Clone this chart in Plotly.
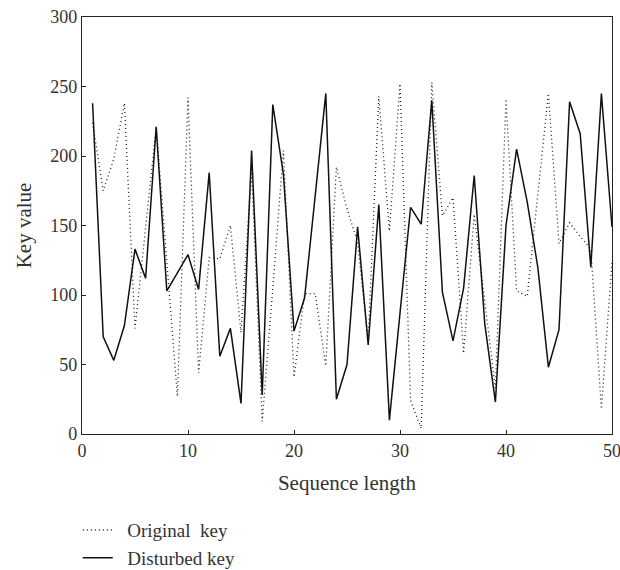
import plotly.graph_objects as go

seq = list(range(1, 51))
original_key = [224, 175, 198, 238, 76, 148, 221, 124, 27, 242,
                44, 127, 126, 150, 73, 190, 9, 105, 204, 41,
                101, 101, 49, 192, 162, 138, 67, 243, 146, 252,
                24, 4, 253, 157, 170, 58, 158, 95, 33, 241,
                103, 99, 172, 245, 137, 152, 142, 133, 18, 124]
disturbed_key = [238, 70, 53, 78, 133, 112, 221, 103, 116, 129,
                 104, 188, 56, 76, 22, 204, 28, 237, 187, 74,
                 98, 171, 245, 25, 50, 149, 64, 165, 10, 87,
                 163, 151, 240, 102, 67, 105, 186, 79, 23, 150,
                 205, 167, 120, 48, 75, 239, 216, 120, 245, 149]
x_ticks = [0, 10, 20, 30, 40, 50]
y_ticks = [0, 50, 100, 150, 200, 250, 300]

FONT = "Liberation Serif"
NB = "\u00a0"

fig = go.Figure()
fig.add_trace(go.Scatter(x=seq, y=original_key, mode="lines",
                         name=NB * 2 + "Original" + NB * 2 + "key",
                         line=dict(color="#222222", width=1.3, dash="1px,3px")))
fig.add_trace(go.Scatter(x=seq, y=disturbed_key, mode="lines",
                         name=NB * 2 + "Disturbed key",
                         line=dict(color="#111111", width=1.5)))

axis_common = dict(showgrid=False, zeroline=False, showline=True, linecolor="#222222",
                   linewidth=1.2, mirror=True, ticks="inside", ticklen=4,
                   tickcolor="#222222", ticklabeloverflow="allow",
                   tickfont=dict(family=FONT, size=18, color="#333333"))

fig.update_xaxes(range=[0, 50], tickvals=x_ticks, ticktext=[str(v) for v in x_ticks],
                 title=dict(text="Sequence length", font=dict(family=FONT, size=21, color="#333333"),
                            standoff=15),
                 **axis_common)
fig.update_yaxes(range=[0, 300], tickvals=y_ticks, ticktext=[str(v) for v in y_ticks],
                 title=dict(text="Key value", font=dict(family=FONT, size=21, color="#333333"),
                            standoff=12),
                 **axis_common)

fig.update_layout(
    width=620, height=570,
    margin=dict(l=82, r=8, t=17, b=136, autoexpand=False),
    plot_bgcolor="white", paper_bgcolor="white",
    showlegend=True,
    legend=dict(x=-0.008, y=-0.185, xanchor="left", yanchor="top",
                font=dict(family=FONT, size=19, color="#333333"),
                bgcolor="rgba(0,0,0,0)", tracegroupgap=0, itemwidth=30),
    font=dict(family=FONT),
)

fig.write_html("out.html", config={"displayModeBar": False},
               post_script="document.body.style.margin='0';")
